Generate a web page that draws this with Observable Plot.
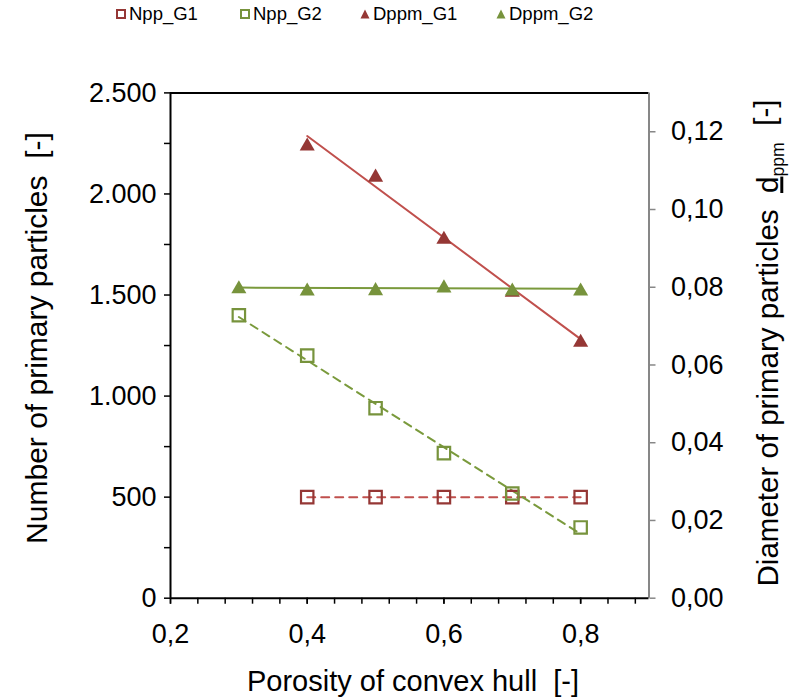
<!DOCTYPE html>
<html>
<head>
<meta charset="utf-8">
<script src="https://cdn.jsdelivr.net/npm/d3@7"></script>
<script src="https://cdn.jsdelivr.net/npm/@observablehq/plot@0.6"></script>
<style>
  body { margin: 0; background: #fff; font-family: "Liberation Sans", Arial, sans-serif; }
  #wrap { position: relative; width: 799px; height: 700px; }
  #legend { position: relative; height: 32px; width: 799px; font-size: 18.5px; color: #000; }
  .item { position: absolute; top: 3px; display: flex; align-items: center; white-space: nowrap; }
  .item svg { margin-right: 2px; }
  #chart svg { display: block; }
</style>
</head>
<body>
<div id="wrap">
  <div id="legend"></div>
  <div id="chart"></div>
</div>
<script>
// Porosity of the convex hull for each group
const porosityG1 = [0.4, 0.5, 0.6, 0.7, 0.8];
const porosityG2 = [0.3, 0.4, 0.5, 0.6, 0.7, 0.8];

// Number of primary particles (left axis)
const nppG1 = [500, 500, 500, 500, 500];
const nppG2 = [1400, 1200, 940, 718, 518, 350];

// Diameter of primary particles (right axis)
const dppmG1 = [0.1168, 0.1088, 0.0928, 0.0792, 0.0663];
const dppmG2 = [0.0801, 0.0795, 0.0796, 0.0803, 0.0795, 0.0795];

// Axis ticks
const xTicks = [0.2, 0.4, 0.6, 0.8];
const xMinorTicks = d3.range(0, 18).map(i => +(0.2 + i * 0.04).toFixed(2));
const leftTicks = [0, 500, 1000, 1500, 2000, 2500];
const leftMinorTicks = [250, 750, 1250, 1750, 2250];
const rightTicks = [0, 0.02, 0.04, 0.06, 0.08, 0.10, 0.12];

const leftMax = 2500;
const rightMax = 0.13;
const k = leftMax / rightMax; // maps the right-axis values onto the left scale

const red = "#953735", redLine = "#c0504d";
const green = "#77933c", greenLine = "#7a9a3c";

const locale = d3.formatLocale({decimal: ",", thousands: ".", grouping: [3], currency: ["", ""]});
const fmtInt = locale.format(",.0f");
const fmt1 = locale.format(".1f");
const fmt2 = locale.format(".2f");

const g1 = porosityG1.map((x, i) => ({x, npp: nppG1[i], d: dppmG1[i] * k}));
const g2 = porosityG2.map((x, i) => ({x, npp: nppG2[i], d: dppmG2[i] * k}));

const font = 27;

const chart = Plot.plot({
  width: 799,
  height: 668,
  marginLeft: 170,
  marginRight: 150.5,
  marginTop: 60.4,
  marginBottom: 102.3,
  style: {fontFamily: "'Liberation Sans', Arial, sans-serif", background: "white", color: "black"},
  x: {domain: [0.2, 0.9]},
  y: {domain: [0, leftMax]},
  marks: [
    // frame lines
    Plot.ruleY([leftMax], {stroke: "black", strokeWidth: 2}),
    Plot.ruleX([0.9], {stroke: "#878787", strokeWidth: 2}),
    // x axis
    Plot.axisX({ticks: xMinorTicks, tickSize: 6, tickFormat: () => "", strokeWidth: 1.5, label: null}),
    Plot.axisX({ticks: xTicks, tickSize: 6, tickPadding: 20, tickFormat: fmt1, fontSize: font, strokeWidth: 1.5, label: null}),
    // left axis
    Plot.axisY({ticks: leftMinorTicks, tickSize: 6, tickFormat: () => "", strokeWidth: 1.5, label: null}),
    Plot.axisY({ticks: leftTicks, tickSize: 6, tickPadding: 8, tickFormat: fmtInt, fontSize: font, strokeWidth: 1.5, label: null}),
    // right axis (diameter)
    Plot.axisY({anchor: "right", ticks: rightTicks.map(v => v * k), tickSize: 6, tickPadding: 16,
      tickFormat: v => fmt2(v / k), fontSize: font, stroke: "#878787", strokeWidth: 1.5, label: null}),
    Plot.ruleX([0.2], {stroke: "black", strokeWidth: 2}),
    Plot.ruleY([0], {stroke: "black", strokeWidth: 2}),
    // trend lines
    Plot.linearRegressionY(g1, {x: "x", y: "npp", ci: 0, stroke: redLine, strokeWidth: 2, strokeDasharray: "8,6"}),
    Plot.linearRegressionY(g2, {x: "x", y: "npp", ci: 0, stroke: greenLine, strokeWidth: 2, strokeDasharray: "8,6"}),
    Plot.linearRegressionY(g2, {x: "x", y: "d", ci: 0, stroke: greenLine, strokeWidth: 2}),
    Plot.linearRegressionY(g1, {x: "x", y: "d", ci: 0, stroke: redLine, strokeWidth: 2}),
    // markers
    Plot.dot(g1, {x: "x", y: "npp", symbol: "square", r: 7, stroke: red, strokeWidth: 2.2, fill: "none"}),
    Plot.dot(g2, {x: "x", y: "npp", symbol: "square", r: 7, stroke: green, strokeWidth: 2.2, fill: "none"}),
    Plot.dot(g1, {x: "x", y: "d", symbol: "triangle", r: 5.6, fill: red, stroke: "none", dy: 2}),
    Plot.dot(g2, {x: "x", y: "d", symbol: "triangle", r: 5.6, fill: green, stroke: "none", dy: 2})
  ]
});
document.getElementById("chart").appendChild(chart);

// axis titles
const svg = d3.select(chart);
svg.append("text")
  .attr("x", 413).attr("y", 659)
  .attr("text-anchor", "middle")
  .style("font-size", "29px").style("white-space", "pre")
  .text("Porosity of convex hull  [-]");
svg.append("text")
  .attr("transform", "translate(36,306) rotate(-90)")
  .attr("text-anchor", "middle").attr("dy", "0.35em")
  .style("font-size", "30px").style("white-space", "pre")
  .text("Number of primary particles  [-]");
const rt = svg.append("text")
  .attr("transform", "translate(768,311) rotate(-90)")
  .attr("text-anchor", "middle").attr("dy", "0.35em")
  .style("font-size", "29.5px").style("white-space", "pre");
rt.append("tspan").text("Diameter of primary particles  ");
rt.append("tspan").style("text-decoration", "underline").text("d");
rt.append("tspan").attr("dy", "0.3em").style("font-size", "60%").text("ppm");
rt.append("tspan").attr("dy", "-0.3em").text("  [-]");

// legend
const legendItems = [
  {label: "Npp_G1", color: red, shape: "square", left: 116},
  {label: "Npp_G2", color: green, shape: "square", left: 240},
  {label: "Dppm_G1", color: red, shape: "triangle", left: 360},
  {label: "Dppm_G2", color: green, shape: "triangle", left: 496}
];
const legend = d3.select("#legend");
for (const it of legendItems) {
  const item = legend.append("div").attr("class", "item").style("left", it.left + "px");
  const s = item.append("svg").attr("width", 11).attr("height", 12);
  if (it.shape === "square") {
    s.append("rect").attr("x", 1).attr("y", 2).attr("width", 8).attr("height", 8)
      .attr("fill", "none").attr("stroke", it.color).attr("stroke-width", 2);
  } else {
    s.append("path").attr("d", "M5,1.5L9.5,10.5L0.5,10.5Z").attr("fill", it.color);
  }
  item.append("span").text(it.label);
}
</script>
</body>
</html>
